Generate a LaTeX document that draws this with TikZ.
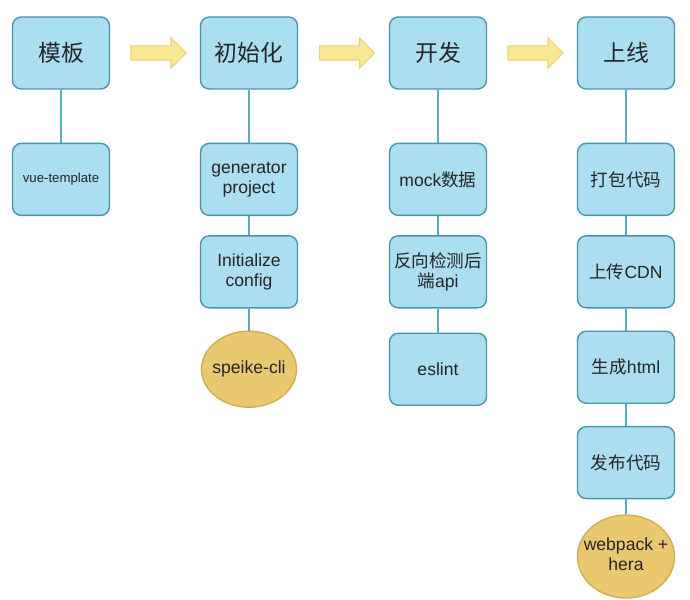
\documentclass[tikz,border=0pt]{standalone}
\usepackage{fontspec}
\setmainfont{Liberation Sans}
\newfontfamily\cjk{Noto Sans CJK SC}
\usetikzlibrary{
    positioning,
    calc,
    shapes.geometric,
    shapes.arrows
}

\definecolor{boxfill}{RGB}{170,222,240}
\definecolor{boxline}{RGB}{72,150,172}
\definecolor{linkline}{RGB}{90,170,190}
\definecolor{toolfill}{RGB}{233,200,112}
\definecolor{toolline}{RGB}{208,174,86}
\definecolor{flowfill}{RGB}{248,232,150}
\definecolor{flowline}{RGB}{236,210,120}

\begin{document}
\begin{tikzpicture}[
    font=\fontsize{10}{11.5}\selectfont,
    stage/.style={
        rounded corners=5pt,
        draw=boxline,
        fill=boxfill,
        line width=0.8pt,
        minimum width=1.94cm,
        minimum height=1.44cm,
        align=center,
        text=black!85,
        font=\cjk\fontsize{13}{15}\selectfont
    },
    task/.style={
        stage,
        inner sep=2pt,
        font=\fontsize{10}{11.5}\selectfont
    },
    tool/.style={
        ellipse,
        draw=toolline,
        fill=toolfill,
        line width=0.8pt,
        align=center,
        inner sep=0pt,
        text=black!85
    },
    flow/.style={
        single arrow,
        draw=flowline,
        fill=flowfill,
        line width=0.6pt,
        minimum height=1.1cm,
        inner sep=0.13cm,
        single arrow head extend=0.16cm
    },
    link/.style={draw=linkline, line width=0.8pt}
]

% Set bounding box to the size of the figure
\useasboundingbox (0,0) rectangle (13.8,11.98);

% ================= STAGES =================
\node[stage] (tpl) at (1.22,10.92) {模板};
\node[stage] (init) at (4.98,10.92) {初始化};
\node[stage] (dev) at (8.76,10.92) {开发};
\node[stage] (rel) at (12.52,10.92) {上线};

% ================= FLOW ARROWS =================
\node[flow] (f1) at ($(tpl.east)!0.5!(init.west)$) {};
\node[flow] (f2) at ($(init.east)!0.5!(dev.west)$) {};
\node[flow] (f3) at ($(dev.east)!0.5!(rel.west)$) {};

% ================= TEMPLATE =================
\node[task, font=\fontsize{7.5}{9}\selectfont, below=1.06cm of tpl] (vue) {vue-template};

% ================= INIT =================
\node[task, below=1.06cm of init] (gen) {generator\\project};
\node[task, below=0.38cm of gen] (cfg) {Initialize\\config};
\node[tool, minimum width=1.9cm, minimum height=1.52cm, below=0.44cm of cfg] (cli)
    {\makebox[0pt]{speike-cli}};

% ================= DEVELOP =================
\node[task, below=1.06cm of dev] (mock) {mock{\cjk 数据}};
\node[task, below=0.38cm of mock] (probe) {{\cjk 反向检测后}\\{\cjk 端}api};
\node[task, below=0.48cm of probe] (lint) {eslint};

% ================= RELEASE =================
\node[task, below=1.06cm of rel] (pack) {\cjk 打包代码};
\node[task, below=0.38cm of pack] (cdn) {{\cjk 上传}CDN};
\node[task, below=0.44cm of cdn] (html) {{\cjk 生成}html};
\node[task, below=0.44cm of html] (pub) {\cjk 发布代码};
\node[tool, minimum width=1.94cm, minimum height=1.66cm, below=0.3cm of pub] (wp)
    {\makebox[0pt]{\begin{tabular}{@{}c@{}}webpack +\\hera\end{tabular}}};

% ================= LINKS =================
\draw[link] (tpl) -- (vue);
\draw[link] (init) -- (gen);
\draw[link] (gen) -- (cfg);
\draw[link] (cfg) -- (cli);
\draw[link] (dev) -- (mock);
\draw[link] (mock) -- (probe);
\draw[link] (probe) -- (lint);
\draw[link] (rel) -- (pack);
\draw[link] (pack) -- (cdn);
\draw[link] (cdn) -- (html);
\draw[link] (html) -- (pub);
\draw[link] (pub) -- (wp);

\end{tikzpicture}
\end{document}
